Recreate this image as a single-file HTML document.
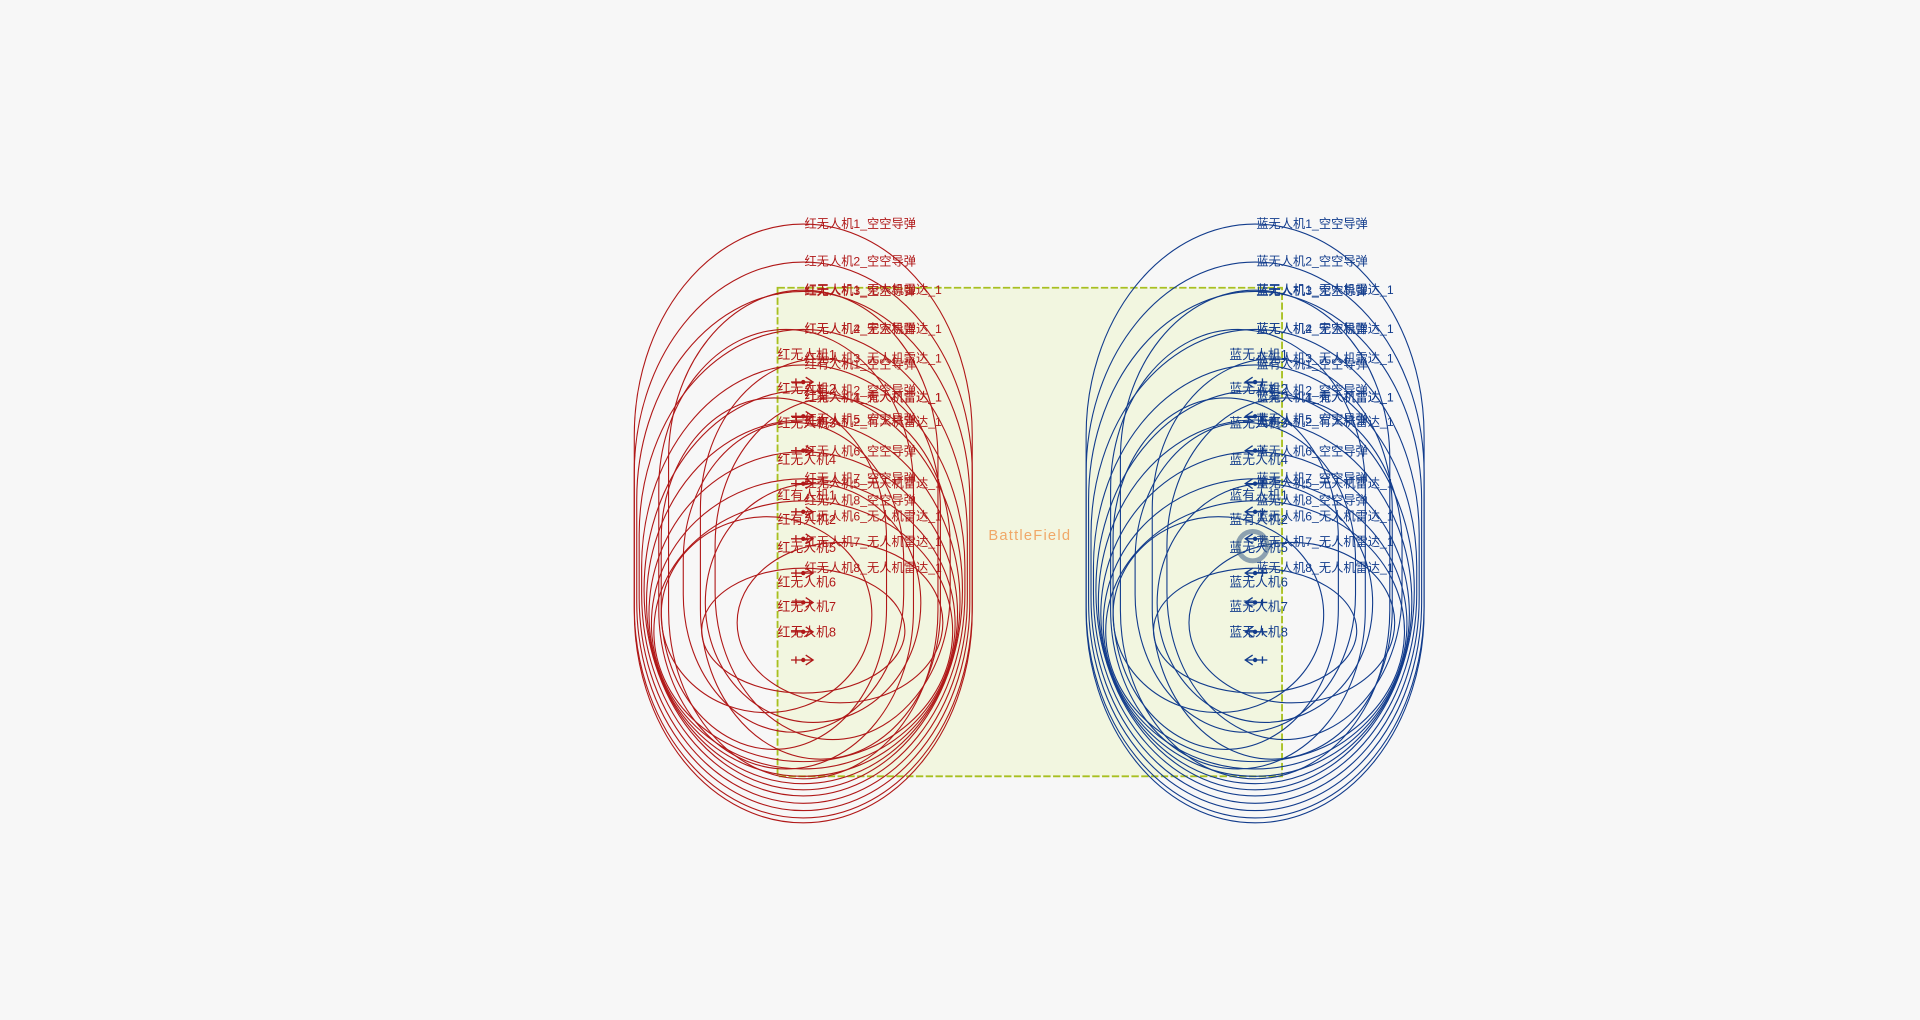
<!DOCTYPE html>
<html><head><meta charset="utf-8"><title>BattleField</title>
<style>html,body{margin:0;padding:0;background:#f7f7f7;overflow:hidden}
svg{display:block}
text{font-family:"Liberation Sans","Noto Sans CJK SC",sans-serif}</style></head>
<body>
<svg id="chart" width="1920" height="1020" viewBox="0 0 1568 833" xmlns="http://www.w3.org/2000/svg">
<rect x="0" y="0" width="1568" height="833" fill="#f7f7f7"/>
<rect x="635" y="235" width="412" height="399" fill="#f2f6e0" stroke="#a8c020" stroke-width="1.5" stroke-dasharray="6,2"/>
<text x="841" y="441" font-size="12" fill="#f0a868" text-anchor="middle" letter-spacing="1">BattleField</text>
<g id="layer"></g>
</svg>
<script>
const aircraftNames = ["无人机1","无人机2","无人机3","无人机4","有人机1","有人机2","无人机5","无人机6","无人机7","无人机8"];
const aircraftLabelY = [289,317,345,375,404,424,447,475,495,516];
const aircraftIconY = [312,340,368,395,418,440,468,492,516,539];
const missileTop = [183,214,238,269,298,319,343,369,391,409];
const missileBottom = [672,668,662,656,650,645,640,634,628,622];
const missileRx = [138,138,136,134,132,130,128,126,124,122];
const radarTop = [237,269,293,325,325,345,395,422,443,464];
const radarBottom = [636,628,620,612,604,598,590,582,574,566];
const radarRx = [110,104,98,92,96,90,88,86,84,83];
const radarDx = [0,-14,14,-24,24,-8,8,-30,30,0];
const sides = ["红","蓝"];
const sideX = [656,1025];
const sideColor = ["#b01818","#123c8c"];
const ns = "http://www.w3.org/2000/svg";
const layer = document.getElementById("layer");
function mk(tag, attrs){const e=document.createElementNS(ns,tag);for(const k in attrs)e.setAttribute(k,attrs[k]);layer.appendChild(e);return e;}
sides.forEach((s, si) => {
  const cx = sideX[si], col = sideColor[si];
  aircraftNames.forEach((n, i) => {
    const mh = missileBottom[i]-missileTop[i];
    const m = mk("rect",{x:cx-missileRx[i],y:missileTop[i],width:2*missileRx[i],height:mh,rx:missileRx[i],ry:Math.min(mh/2,missileRx[i]*1.25),fill:"none",stroke:col,"stroke-width":0.9});
    
    
    const rh = radarBottom[i]-radarTop[i];
    const r = mk("rect",{x:cx+radarDx[i]-radarRx[i],y:radarTop[i],width:2*radarRx[i],height:rh,rx:radarRx[i],ry:Math.min(rh/2,radarRx[i]*1.25),fill:"none",stroke:col,"stroke-width":0.9});
    
    
  });
  aircraftNames.forEach((n, i) => {
    const lt = mk("text",{x:cx+1,y:missileTop[i]+3,"font-size":10,fill:col});
    lt.textContent = s + n + "_空空导弹";
    
    
    const rt = mk("text",{x:cx+1,y:radarTop[i]+3,"font-size":10,fill:col});
    rt.textContent = s + n + "_" + (n.indexOf("有")>=0?"有人机":"无人机") + "雷达_1";
    
    
    const at = mk("text",{x:cx-21,y:aircraftLabelY[i]+4,"font-size":10.5,fill:col});
    at.textContent = s + n;
    
    
    const dir = si===0?1:-1, y=aircraftIconY[i];
    const ic = mk("path",{d:`M${cx-10*dir} ${y}L${cx+8*dir} ${y}M${cx+2*dir} ${y-4}L${cx+8*dir} ${y}L${cx+2*dir} ${y+4}M${cx-6*dir} ${y-3}L${cx-6*dir} ${y+3}`,stroke:col,"stroke-width":1.1,fill:"none"});
    
    
    const d = mk("circle",{cx:cx,cy:y,r:1.8,fill:col});
    
    
  });
});
const hl = mk("circle",{cx:1023,cy:446,r:12,fill:"none",stroke:"#4a6a90","stroke-width":4,opacity:0.6});


</script>
</body></html>
